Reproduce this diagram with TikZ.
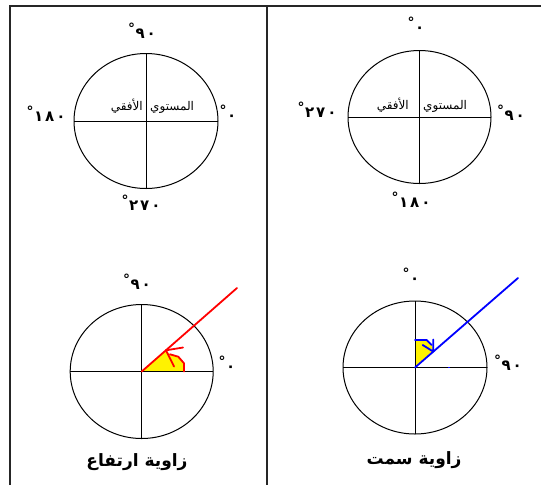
\documentclass[tikz,border=0pt]{standalone}
\usepackage{fontspec}
\usetikzlibrary{calc}
\newfontfamily\ar[Script=Arabic]{DejaVu Sans}
\TeXXeTstate=1
\tikzset{
  frame/.style={line width=1.6pt, draw=black!85},
  circ/.style={line width=1pt, draw=black},
  axis/.style={line width=1pt, draw=black},
  deg/.style={inner sep=0pt, font=\ar\bfseries\fontsize{15}{17}\selectfont},
  plane/.style={inner sep=0pt, font=\ar\fontsize{12}{14}\selectfont},
  captext/.style={inner sep=0pt, font=\ar\bfseries\fontsize{17}{19}\selectfont},
  redl/.style={draw=red, line width=1.8pt, line cap=round, line join=round},
  bluel/.style={draw=blue, line width=1.8pt, line cap=round, line join=round},
}
\newcommand{\dg}[1]{\raisebox{0.35em}{\fontsize{14}{14}\selectfont°}\kern0.5pt#1}
\newcommand{\sk}{\kern2pt}
\begin{document}
\begin{tikzpicture}[x=1pt,y=-1pt]
\useasboundingbox (0,0) rectangle (545,485);
% frame
\draw[frame] (10,485) -- (10,6) -- (541,6);
\draw[frame] (267,6) -- (267,485);

% ---------- top-left ----------
\coordinate (c1) at (146,121);
\draw[circ] (c1) ellipse [x radius=72, y radius=67.5];
\draw[axis] ($(c1)+(-72,0)$) -- ($(c1)+(72,0)$);
\draw[axis] ($(c1)+(0,-67.5)$) -- ($(c1)+(0,67.5)$);
\node[plane, anchor=south east] (p1a) at (143,114) {\beginR الأفقي\endR};
\node[plane, anchor=south west] (p1b) at (150,114) {\beginR المستوي\endR};
\node[deg] (t1n) at (142,31) {\dg{٩\sk٠}};
\node[deg] (t1w) at (46,114) {\dg{١\sk٨\sk٠}};
\node[deg] (t1e) at (228,113) {\dg{٠}};
\node[deg] (t1s) at (141,203) {\dg{٢\sk٧\sk٠}};

% ---------- top-right ----------
\coordinate (c2) at (419.5,117);
\draw[circ] (c2) ellipse [x radius=71.5, y radius=66.5];
\draw[axis] ($(c2)+(-71.5,0)$) -- ($(c2)+(71.5,0)$);
\draw[axis] ($(c2)+(0,-66.5)$) -- ($(c2)+(0,66.5)$);
\node[plane, anchor=south east] (p2a) at (409,113) {\beginR الأفقي\endR};
\node[plane, anchor=south west] (p2b) at (423,113) {\beginR المستوي\endR};
\node[deg] (t2n) at (416,25) {\dg{٠}};
\node[deg] (t2w) at (317,110) {\dg{٢\sk٧\sk٠}};
\node[deg] (t2e) at (511,113) {\dg{٩\sk٠}};
\node[deg] (t2s) at (411,200) {\dg{١\sk٨\sk٠}};

% ---------- bottom-left ----------
\coordinate (c3) at (141.7,371.5);
\coordinate (r3) at (237,288);
\fill[yellow] (c3) -- (184,371.5) -- (184,363.3) -- (178.3,356.7) -- (170,354.3) -- (166,350.3) -- cycle;
\draw[circ] (c3) ellipse [x radius=71.5, y radius=67];
\draw[axis] ($(c3)+(-71.5,0)$) -- ($(c3)+(71.5,0)$);
\draw[axis] ($(c3)+(0,-67)$) -- ($(c3)+(0,67)$);
\draw[redl] (184,371.5) -- (184,363.3) -- (178.3,356.7) -- (170,354.3);
\draw[redl] (c3) -- (r3);
\coordinate (a3) at (166,350.3);
\draw[redl] (183,347.5) -- (a3) -- (174,366.5);
\node[deg] (t3n) at (137,282) {\dg{٩\sk٠}};
\node[deg] (t3e) at (227,364) {\dg{٠}};
\node[captext] (cap3) at (137,462) {\beginR زاوية ارتفاع\endR};

% ---------- bottom-right ----------
\coordinate (c4) at (415,367.5);
\coordinate (r4) at (518,278);
\fill[yellow] (c4) -- (415,340) -- (426.7,340) -- (431.7,345) -- (433.3,351.6) -- cycle;
\draw[circ] (c4) ellipse [x radius=72, y radius=66.5];
\draw[axis] ($(c4)+(-72,0)$) -- ($(c4)+(72,0)$);
\draw[axis] ($(c4)+(0,-66.5)$) -- ($(c4)+(0,66.5)$);
\draw[bluel] (415,340) -- (426.7,340) -- (431.7,345);
\draw[bluel] (c4) -- (r4);
\coordinate (a4) at (433.3,351.6);
\draw[bluel] (422.7,345) -- (a4) -- (433.3,339.5);
\draw[draw=blue, line width=1.5pt] (447.5,367.5) -- (449.5,367.5);
\node[deg] (t4n) at (411,276) {\dg{٠}};
\node[deg] (t4e) at (508,363) {\dg{٩\sk٠}};
\node[captext] (cap4) at (414,460) {\beginR زاوية سمت\endR};
\end{tikzpicture}
\end{document}
